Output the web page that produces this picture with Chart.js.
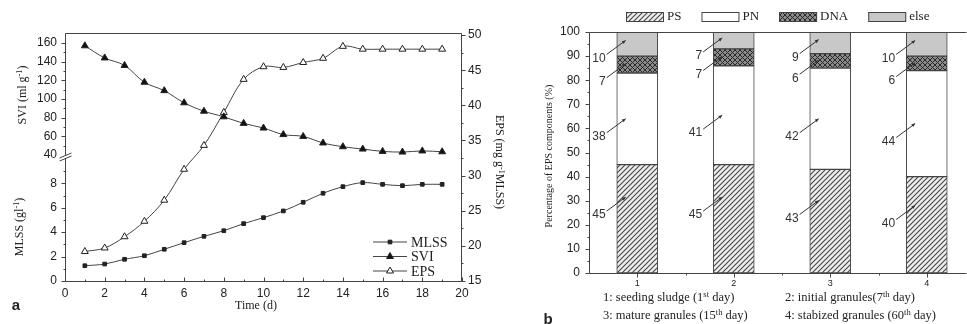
<!DOCTYPE html>
<html>
<head>
<meta charset="utf-8">
<script src="https://cdn.jsdelivr.net/npm/chart.js@4/dist/chart.umd.min.js"></script>
<style>
  body { margin: 0; background: #fff; }
  #wrap { position: relative; width: 967px; height: 324px; overflow: hidden; font-family: "Liberation Serif", serif; color: #222; }
  canvas { position: absolute; top: 0; }
  #ca { left: 0; }
  #cb { left: 520px; }
  .t { position: absolute; white-space: nowrap; transform: translate(-50%, -50%); }
  .l { position: absolute; white-space: nowrap; transform: translateY(-50%); }
  .up { transform: translate(-50%, -50%) rotate(-90deg); }
  .down { transform: translate(-50%, -50%) rotate(90deg); }
  sup { font-size: 68%; vertical-align: 0.45em; line-height: 0; }
  .tag { font-family: "Liberation Sans", sans-serif; font-weight: bold; font-size: 15px; }
</style>
</head>
<body>
<div id="wrap">
  <canvas id="ca" width="520" height="324"></canvas>
  <canvas id="cb" width="447" height="324"></canvas>

  <div class="t up" style="left:22px;top:95px;font-size:12px">SVI (ml g<sup>-1</sup>)</div>
  <div class="t up" style="left:19px;top:227px;font-size:12px">MLSS (gl<sup>-1</sup>)</div>
  <div class="t down" style="left:499px;top:162px;font-size:12px">EPS (mg g<sup>-1</sup>MLSS)</div>
  <div class="t" style="left:256px;top:305px;font-size:12px">Time (d)</div>
  <div class="t tag" style="left:16px;top:304px">a</div>

  <div class="t up" style="left:548px;top:156px;font-size:10px">Percentage of EPS components (%)</div>
  <div class="l" style="left:603px;top:297px;font-size:12.5px">1: seeding sludge (1<sup>st</sup> day)</div>
  <div class="l" style="left:785px;top:297px;font-size:12.5px">2: initial granules(7<sup>th</sup> day)</div>
  <div class="l" style="left:603px;top:315px;font-size:12.5px">3: mature granules (15<sup>th</sup> day)</div>
  <div class="l" style="left:785px;top:315px;font-size:12.5px">4: stabized granules (60<sup>th</sup> day)</div>
  <div class="t tag" style="left:548px;top:318px">b</div>
</div>

<script>
// panel a: time course
const days = [1, 2, 3, 4, 5, 6, 7, 8, 9, 10, 11, 12, 13, 14, 15, 16, 17, 18, 19];
const mlss = [1.25, 1.39, 1.78, 2.07, 2.6, 3.14, 3.66, 4.12, 4.7, 5.19, 5.74, 6.45, 7.19, 7.73, 8.06, 7.92, 7.81, 7.92, 7.92];
const svi = [157, 144, 136, 118, 109, 96, 87, 81, 74, 69, 62, 60, 53, 49, 46.5, 44, 43.3, 44.5, 43.6];
const eps = [19.2, 19.7, 21.3, 23.5, 26.5, 30.9, 34.3, 39.0, 43.7, 45.5, 45.4, 46.1, 46.7, 48.4, 48.0, 48.0, 48.0, 48.0, 48.0];

const timeTicks = [0, 2, 4, 6, 8, 10, 12, 14, 16, 18, 20];
const sviTicks = [40, 60, 80, 100, 120, 140, 160];
const mlssTicks = [0, 2, 4, 6, 8];
const epsTicks = [15, 20, 25, 30, 35, 40, 45, 50];

// panel b: EPS composition per stage
const stages = ['1', '2', '3', '4'];
const ps = [45, 45, 43, 40];
const pn = [38, 41, 42, 44];
const dna = [7, 7, 6, 6];
const other = [10, 7, 9, 10];
const pctTicks = [0, 10, 20, 30, 40, 50, 60, 70, 80, 90, 100];

const AX = '#444';
const tickFont = { family: 'Liberation Sans', size: 12 };

function between(list, step) {
  const out = [];
  for (let i = 0; i < list.length - 1; i++) out.push(list[i] + step);
  return out;
}

function fixedTicks(list) {
  return s => { s.ticks = list.map(v => ({ value: v })); };
}

// draws major and minor tick marks along one edge of the plot area
const tickMarks = {
  id: 'tickMarks',
  afterDraw(chart, args, opts) {
    const ctx = chart.ctx, area = chart.chartArea;
    ctx.save();
    ctx.strokeStyle = AX;
    ctx.lineWidth = 1;
    for (const s of opts.specs) {
      const sc = chart.scales[s.id];
      [[s.major, 4], [s.minor, 2]].forEach(([vals, len]) => {
        vals.forEach(v => {
          const p = Math.round(sc.getPixelForValue(v)) + 0.5;
          ctx.beginPath();
          if (s.edge === 'bottom') {
            const y = Math.round(area.bottom) + 0.5;
            ctx.moveTo(p, y); ctx.lineTo(p, y + s.dir * len);
          } else if (s.edge === 'left') {
            const x = Math.round(area.left) + 0.5;
            ctx.moveTo(x, p); ctx.lineTo(x - s.dir * len, p);
          } else {
            const x = Math.round(area.right) - 0.5;
            ctx.moveTo(x, p); ctx.lineTo(x + s.dir * len, p);
          }
          ctx.stroke();
        });
      });
    }
    ctx.restore();
  }
};

// plot frame; panel a gets a break mark on the left axis
const frame = {
  id: 'frame',
  afterDraw(chart, args, opts) {
    const ctx = chart.ctx, a = chart.chartArea;
    const l = Math.round(a.left) + 0.5, r = Math.round(a.right) - 0.5;
    const t = Math.round(a.top) + 0.5, b = Math.round(a.bottom) + 0.5;
    ctx.save();
    ctx.strokeStyle = AX;
    ctx.lineWidth = 1;
    ctx.beginPath();
    ctx.moveTo(l, b); ctx.lineTo(l, t); ctx.lineTo(r, t);
    if (opts.closed) ctx.lineTo(r, b);
    ctx.moveTo(l, b); ctx.lineTo(r, b);
    ctx.stroke();
    if (opts.breakAt) {
      const y = Math.round(chart.scales[opts.breakAt].bottom);
      ctx.fillStyle = '#fff';
      ctx.fillRect(l - 5, y - 2, 10, 4);
      ctx.beginPath();
      ctx.moveTo(l - 6, y + 1); ctx.lineTo(l + 6, y - 4);
      ctx.moveTo(l - 6, y + 4); ctx.lineTo(l + 6, y - 1);
      ctx.stroke();
    }
    ctx.restore();
  }
};

// in-plot legend for the line chart
const lineKey = {
  id: 'lineKey',
  afterDraw(chart) {
    const ctx = chart.ctx, a = chart.chartArea;
    const x0 = a.right - 89, x1 = a.right - 55;
    ctx.save();
    ctx.font = '14px "Liberation Serif"';
    ctx.textBaseline = 'middle';
    chart.data.datasets.forEach((ds, i) => {
      const y = a.bottom - 39 + i * 14.5;
      ctx.strokeStyle = ds.borderColor;
      ctx.lineWidth = 1;
      ctx.beginPath(); ctx.moveTo(x0, y); ctx.lineTo(x1, y); ctx.stroke();
      ctx.fillStyle = ds.pointBackgroundColor;
      ctx.strokeStyle = ds.pointBorderColor;
      Chart.helpers.drawPoint(ctx, { pointStyle: ds.pointStyle, radius: ds.pointRadius, borderWidth: 1 }, (x0 + x1) / 2, y);
      ctx.fillStyle = '#222';
      ctx.fillText(ds.label, x1 + 4, y + 1);
    });
    ctx.restore();
  }
};

function lineSet(label, data, axis, style, radius, fill) {
  return {
    label, data: days.map((d, i) => ({ x: d, y: data[i] })), yAxisID: axis,
    borderColor: '#444', borderWidth: 1, tension: 0.35,
    pointStyle: style, pointRadius: radius,
    pointBackgroundColor: fill, pointBorderColor: '#222', pointBorderWidth: 1
  };
}

function axisTicks(pad) {
  return { font: tickFont, color: '#222', padding: pad, autoSkip: false, maxRotation: 0 };
}

new Chart(document.getElementById('ca'), {
  type: 'line',
  data: {
    datasets: [
      lineSet('MLSS', mlss, 'yMlss', 'rect', 2.6, '#222'),
      lineSet('SVI', svi, 'ySvi', 'triangle', 4, '#111'),
      lineSet('EPS', eps, 'yEps', 'triangle', 4, '#fff')
    ]
  },
  options: {
    responsive: false,
    animation: false,
    layout: { padding: { top: 33, left: 0, right: 0, bottom: 0 } },
    plugins: {
      legend: { display: false },
      tooltip: { enabled: false },
      tickMarks: {
        specs: [
          { id: 'x', edge: 'bottom', dir: -1, major: timeTicks, minor: between(timeTicks, 1) },
          { id: 'ySvi', edge: 'left', dir: 1, major: sviTicks, minor: between(sviTicks, 10) },
          { id: 'yMlss', edge: 'left', dir: 1, major: mlssTicks, minor: between(mlssTicks, 1).concat([9]) },
          { id: 'yEps', edge: 'right', dir: 1, major: epsTicks, minor: between(epsTicks, 2.5) }
        ]
      },
      frame: { closed: true, breakAt: 'ySvi' }
    },
    scales: {
      x: {
        type: 'linear', min: 0, max: 20,
        afterBuildTicks: fixedTicks(timeTicks),
        afterFit: s => { s.height = 43; },
        grid: { display: false, drawTicks: false }, border: { display: false },
        ticks: axisTicks(5)
      },
      yMlss: {
        type: 'linear', position: 'left', stack: 'left', stackWeight: 1,
        min: 0, max: 10.16,
        afterBuildTicks: fixedTicks(mlssTicks),
        afterFit: s => { s.width = 65; },
        grid: { display: false, drawTicks: false }, border: { display: false },
        ticks: axisTicks(8)
      },
      ySvi: {
        type: 'linear', position: 'left', stack: 'left', stackWeight: 1,
        min: 38, max: 170.7,
        afterBuildTicks: fixedTicks(sviTicks),
        afterFit: s => { s.width = 65; },
        grid: { display: false, drawTicks: false }, border: { display: false },
        ticks: axisTicks(8)
      },
      yEps: {
        type: 'linear', position: 'right',
        min: 15, max: 50.3,
        afterBuildTicks: fixedTicks(epsTicks),
        afterFit: s => { s.width = 58; },
        grid: { display: false, drawTicks: false }, border: { display: false },
        ticks: axisTicks(6)
      }
    }
  },
  plugins: [tickMarks, frame, lineKey]
});

// fill patterns for the stacked bars
function hatch(bg, draw) {
  const c = document.createElement('canvas');
  c.width = 5; c.height = 5;
  const g = c.getContext('2d');
  g.fillStyle = bg; g.fillRect(0, 0, 5, 5);
  draw(g);
  return g.createPattern(c, 'repeat');
}
const diag = g => {
  g.strokeStyle = '#4a4a4a'; g.lineWidth = 1.2;
  g.beginPath();
  g.moveTo(-1, 6); g.lineTo(6, -1);
  g.moveTo(-1, 1); g.lineTo(1, -1);
  g.moveTo(4, 6); g.lineTo(6, 4);
  g.stroke();
};
const cross = g => {
  g.strokeStyle = '#2a2a2a'; g.lineWidth = 1;
  g.beginPath();
  g.moveTo(0, 5); g.lineTo(5, 0);
  g.moveTo(0, 0); g.lineTo(5, 5);
  g.stroke();
};
const ctxB = document.getElementById('cb').getContext('2d');
const fills = {
  PS: hatch('#eeeeee', diag),
  PN: '#ffffff',
  DNA: hatch('#8a8a8a', cross),
  else: '#c8c8c8'
};

// legend strip above the bars
const boxKey = {
  id: 'boxKey',
  afterDraw(chart) {
    const ctx = chart.ctx;
    let x = chart.chartArea.left + 37;
    ctx.save();
    ctx.font = '13px "Liberation Serif"';
    ctx.textBaseline = 'middle';
    chart.data.datasets.forEach(ds => {
      ctx.fillStyle = ds.backgroundColor;
      ctx.fillRect(x, 12, 38, 10);
      ctx.strokeStyle = '#444'; ctx.lineWidth = 1;
      ctx.strokeRect(x + 0.5, 12.5, 37, 9);
      ctx.fillStyle = '#222';
      ctx.fillText(ds.label, x + 41, 17);
      x += 41 + ctx.measureText(ds.label).width + 20;
    });
    ctx.restore();
  }
};

// value labels with short pointer arrows into each segment
const pointers = {
  id: 'pointers',
  afterDraw(chart, args, opts) {
    const ctx = chart.ctx, xs = chart.scales.x, ys = chart.scales.y;
    ctx.save();
    ctx.strokeStyle = '#333'; ctx.fillStyle = '#333'; ctx.lineWidth = 1;
    ctx.font = '12px "Liberation Sans"';
    ctx.textAlign = 'right'; ctx.textBaseline = 'middle';
    const base = stages.map(() => 0);
    chart.data.datasets.forEach((ds, d) => {
      ds.data.forEach((pt, i) => {
        const hx = xs.getPixelForValue(pt.x - 0.12);
        const hy = ys.getPixelForValue(base[i] + opts.depth[d] * pt.y);
        const tx = hx - 19, ty = hy + 14;
        ctx.beginPath(); ctx.moveTo(tx, ty); ctx.lineTo(hx, hy); ctx.stroke();
        const ang = Math.atan2(hy - ty, hx - tx);
        ctx.beginPath();
        ctx.moveTo(hx, hy);
        ctx.lineTo(hx - 4 * Math.cos(ang - 0.45), hy - 4 * Math.sin(ang - 0.45));
        ctx.lineTo(hx - 4 * Math.cos(ang + 0.45), hy - 4 * Math.sin(ang + 0.45));
        ctx.closePath(); ctx.fill();
        ctx.fillText(String(pt.y), tx - 1, ty + 4);
        base[i] += pt.y;
      });
    });
    ctx.restore();
  }
};

function barSet(label, data) {
  return {
    label, data: data.map((v, i) => ({ x: i + 1, y: v })),
    backgroundColor: fills[label], borderColor: '#444', borderWidth: 1,
    borderSkipped: false, barThickness: 41
  };
}

new Chart(ctxB, {
  type: 'bar',
  data: {
    datasets: [
      barSet('PS', ps),
      barSet('PN', pn),
      barSet('DNA', dna),
      barSet('else', other)
    ]
  },
  options: {
    responsive: false,
    animation: false,
    layout: { padding: { top: 32, left: 0, right: 0, bottom: 0 } },
    plugins: {
      legend: { display: false },
      tooltip: { enabled: false },
      tickMarks: {
        specs: [
          { id: 'x', edge: 'bottom', dir: 1, major: [1, 2, 3, 4], minor: [1.5, 2.5, 3.5] },
          { id: 'y', edge: 'left', dir: 1, major: pctTicks, minor: between(pctTicks, 5) }
        ]
      },
      frame: { closed: false },
      pointers: { depth: [0.7, 0.5, 0.55, 0.65] }
    },
    scales: {
      x: {
        type: 'linear', stacked: true, offset: false, min: 0.5, max: 4.417,
        afterBuildTicks: fixedTicks([1, 2, 3, 4]),
        afterFit: s => { s.height = 51; },
        grid: { display: false, drawTicks: false, offset: false }, border: { display: false },
        ticks: { font: { family: 'Liberation Sans', size: 9 }, color: '#222', padding: 5, autoSkip: false,
                 callback: v => stages[v - 1] }
      },
      y: {
        stacked: true, min: 0, max: 100,
        afterBuildTicks: fixedTicks(pctTicks),
        afterFit: s => { s.width = 69; },
        grid: { display: false, drawTicks: false }, border: { display: false },
        ticks: axisTicks(9)
      }
    }
  },
  plugins: [tickMarks, frame, boxKey, pointers]
});
</script>
</body>
</html>
